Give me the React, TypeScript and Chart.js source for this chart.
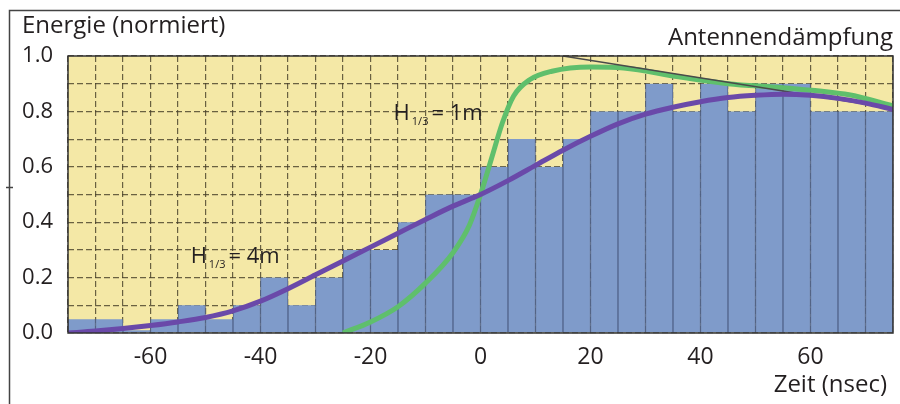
import React, { useEffect, useRef } from "react";
import { Chart, registerables } from "chart.js";

Chart.register(...registerables);

// ---- data ----
const binStarts = [-75, -70, -65, -60, -55, -50, -45, -40, -35, -30, -25, -20, -15, -10, -5, 0, 5, 10, 15, 20, 25, 30, 35, 40, 45, 50, 55, 60, 65, 70];
const binEnergy = [0.05, 0.05, 0.01, 0.05, 0.1, 0.05, 0.1, 0.2, 0.1, 0.2, 0.3, 0.3, 0.4, 0.5, 0.5, 0.6, 0.7, 0.6, 0.7, 0.8, 0.8, 0.9, 0.8, 0.9, 0.8, 0.9, 0.9, 0.8, 0.8, 0.8];
const binWidth = 5;

const h4mX = [-75, -70, -65, -60, -55, -50, -45, -40, -35, -30, -25, -20, -15, -10, -5, 0, 5, 10, 15, 20, 25, 30, 35, 40, 45, 50, 55, 60, 65, 70, 75];
const h4mY = [0.0, 0.007, 0.016, 0.027, 0.04, 0.056, 0.08, 0.115, 0.16, 0.21, 0.26, 0.31, 0.36, 0.41, 0.458, 0.5, 0.55, 0.605, 0.66, 0.71, 0.755, 0.79, 0.815, 0.835, 0.85, 0.858, 0.862, 0.858, 0.847, 0.83, 0.807];

const h1mX = [-25, -20, -15, -10, -5, -2, 0, 2, 4, 6, 9, 13, 20, 26, 36, 45, 55, 67, 75];
const h1mY = [0.0, 0.04, 0.095, 0.18, 0.29, 0.39, 0.5, 0.63, 0.76, 0.855, 0.915, 0.945, 0.96, 0.957, 0.925, 0.9, 0.885, 0.86, 0.82];

const dampX = [15, 75];
const dampY = [1.0, 0.81];

const xLabelValues = [-60, -40, -20, 0, 20, 40, 60];
const yLabelValues = [0, 0.2, 0.4, 0.6, 0.8, 1.0];

const curveLabels = [
  { x: -15.8, y: 0.79, value: "1m" },
  { x: -52.7, y: 0.274, value: "4m" },
];

const FONT = "'Open Sans', 'Noto Sans', sans-serif";
const TEXT = "#231f20";

export default function App() {
  const ref = useRef<HTMLCanvasElement | null>(null);

  useEffect(() => {
    if (!ref.current) return;
    document.body.style.margin = "0";

    const decor = {
      id: "decor",
      beforeDraw(chart: any) {
        const { ctx, chartArea: a } = chart;
        ctx.save();
        ctx.fillStyle = "#f4e8a6";
        ctx.fillRect(a.left, a.top, a.right - a.left, a.bottom - a.top);
        ctx.restore();
      },
      afterDraw(chart: any) {
        const { ctx, chartArea: a } = chart;
        const xs = chart.scales.x;
        const ys = chart.scales.y;
        ctx.save();
        // plot frame
        ctx.strokeStyle = "#333333";
        ctx.lineWidth = 1.5;
        ctx.strokeRect(a.left, a.top, a.right - a.left, a.bottom - a.top);
        // outer frame
        ctx.strokeStyle = "#444444";
        ctx.lineWidth = 1.5;
        ctx.beginPath();
        ctx.moveTo(9.5, 404);
        ctx.lineTo(9.5, 10.5);
        ctx.lineTo(900, 10.5);
        ctx.moveTo(6, 187.5);
        ctx.lineTo(13, 187.5);
        ctx.stroke();

        ctx.fillStyle = TEXT;
        ctx.textBaseline = "alphabetic";
        ctx.font = `24px ${FONT}`;
        ctx.textAlign = "left";
        ctx.fillText("Energie (normiert)", 22, 33);
        ctx.textAlign = "right";
        ctx.fillText("Antennendämpfung", 893, 45);
        ctx.fillText("Zeit (nsec)", 887, 392);

        // curve labels H1/3 = ...
        curveLabels.forEach((l) => {
          const px = xs.getPixelForValue(l.x);
          const py = ys.getPixelForValue(l.y);
          ctx.textAlign = "left";
          ctx.textBaseline = "middle";
          ctx.font = `22px ${FONT}`;
          ctx.fillText("H", px, py);
          const w = ctx.measureText("H").width;
          ctx.font = `11px ${FONT}`;
          ctx.fillText("1/3", px + w + 2, py + 8);
          const w2 = ctx.measureText("1/3").width;
          ctx.font = `22px ${FONT}`;
          ctx.fillText("= " + l.value, px + w + w2 + 5, py);
        });
        ctx.restore();
      },
    };

    const chart = new Chart(ref.current, {
      type: "bar",
      data: {
        datasets: [
          {
            type: "line",
            label: "H1/3 = 4m",
            data: h4mX.map((x, i) => ({ x, y: h4mY[i] })),
            borderColor: "#6a49a9",
            borderWidth: 5,
            pointRadius: 0,
            cubicInterpolationMode: "monotone",
            order: 0,
          } as any,
          {
            type: "line",
            label: "Antennendämpfung",
            data: dampX.map((x, i) => ({ x, y: dampY[i] })),
            borderColor: "#4a4a4a",
            borderWidth: 1.5,
            pointRadius: 0,
            order: 1,
          } as any,
          {
            type: "line",
            label: "H1/3 = 1m",
            data: h1mX.map((x, i) => ({ x, y: h1mY[i] })),
            borderColor: "#5fbf6c",
            borderWidth: 5,
            pointRadius: 0,
            cubicInterpolationMode: "monotone",
            order: 2,
          } as any,
          {
            type: "bar",
            label: "Energie",
            data: binStarts.map((s, i) => ({ x: s + binWidth / 2, y: binEnergy[i] })),
            backgroundColor: "#7f9bca",
            borderColor: "#52648c",
            borderWidth: { top: 0, bottom: 0, left: 1, right: 1 },
            borderSkipped: false,
            barPercentage: 1,
            categoryPercentage: 1,
            order: 3,
          } as any,
        ],
      },
      options: {
        responsive: false,
        animation: false,
        devicePixelRatio: 1,
        layout: { padding: { top: 56, right: 7, left: 0, bottom: 0 } },
        plugins: { legend: { display: false }, tooltip: { enabled: false } },
        scales: {
          x: {
            type: "linear",
            min: -75,
            max: 75,
            offset: false,
            afterFit: (s: any) => {
              s.height = 71;
              s.paddingLeft = 0;
              s.paddingRight = 0;
            },
            ticks: {
              stepSize: 5,
              autoSkip: false,
              maxRotation: 0,
              minRotation: 0,
              padding: 11,
              color: TEXT,
              font: { family: FONT, size: 23 },
              callback: (v: any) => {
                const n = Math.round(Number(v));
                return xLabelValues.includes(n) ? String(n) : "";
              },
            },
            grid: {
              offset: false,
              color: "rgba(70,62,40,0.8)",
              lineWidth: 1.2,
              drawTicks: false,
            },
            border: { display: false, dash: [6, 3] },
          },
          y: {
            min: 0,
            max: 1,
            afterFit: (s: any) => {
              s.width = 68;
              s.paddingTop = 0;
              s.paddingBottom = 0;
            },
            ticks: {
              stepSize: 0.1,
              autoSkip: false,
              padding: 15,
              color: TEXT,
              font: { family: FONT, size: 22 },
              callback: (v: any) => {
                const n = Math.round(Number(v) * 10) / 10;
                return yLabelValues.some((y) => Math.abs(y - n) < 1e-6) ? n.toFixed(1) : "";
              },
            },
            grid: {
              color: "rgba(70,62,40,0.8)",
              lineWidth: 1.2,
              drawTicks: false,
            },
            border: { display: false, dash: [6, 3] },
          },
        },
      } as any,
      plugins: [decor],
    });

    return () => chart.destroy();
  }, []);

  return (
    <div style={{ position: "absolute", left: 0, top: 0, width: 900, height: 404, background: "#ffffff" }}>
      <canvas ref={ref} width={900} height={404} style={{ width: 900, height: 404, display: "block" }} />
    </div>
  );
}
